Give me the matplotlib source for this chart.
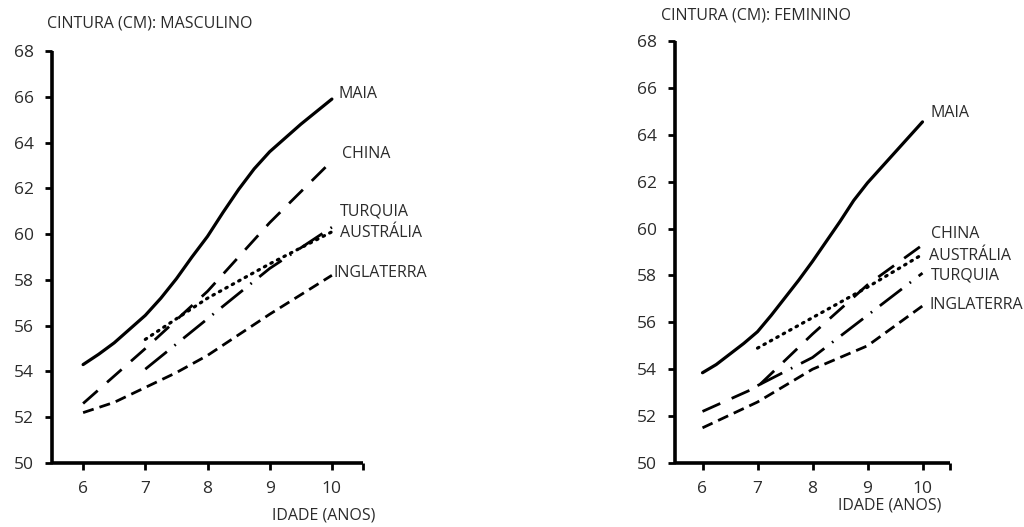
import matplotlib
matplotlib.use("Agg")
import matplotlib.pyplot as plt

plt.rcParams['font.family'] = ['Open Sans', 'DejaVu Sans']

# ---- data ----
ages_q = [6, 6.25, 6.5, 6.75, 7, 7.25, 7.5, 7.75, 8, 8.25, 8.5, 8.75, 9, 9.25, 9.5, 9.75, 10]
ages_half = [6, 6.5, 7, 7.5, 8, 8.5, 9, 9.5, 10]
ages_6 = [6, 7, 8, 9, 10]
ages_7 = [7, 8, 9, 10]

# masculino
m_maia = [54.3, 54.75, 55.25, 55.85, 56.45, 57.2, 58.05, 59.0, 59.9, 60.95,
          61.95, 62.85, 63.6, 64.2, 64.8, 65.35, 65.9]
m_china = [52.6, 55.0, 57.5, 60.5, 63.2]
m_turquia = [54.1, 56.3, 58.5, 60.3]
m_australia = [55.4, 57.2, 58.7, 60.1]
m_inglaterra = [52.2, 52.65, 53.3, 53.95, 54.7, 55.6, 56.5, 57.35, 58.2]

# feminino
f_maia = [53.85, 54.2, 54.65, 55.1, 55.6, 56.3, 57.05, 57.8, 58.6, 59.45,
          60.3, 61.2, 61.95, 62.6, 63.25, 63.9, 64.55]
f_china = [52.2, 53.25, 55.5, 57.6, 59.3]
f_australia = [54.9, 56.2, 57.5, 58.9]
f_turquia = [53.3, 54.5, 56.3, 58.1]
f_inglaterra = [51.5, 52.6, 54.0, 55.0, 56.7]

xticks = [6, 7, 8, 9, 10]
yticks = [50, 52, 54, 56, 58, 60, 62, 64, 66, 68]

TXT = '#2b2b2b'

fig = plt.figure(figsize=(10.24, 5.27), dpi=100)
axL = fig.add_axes([52/1024, 1-463/527, 311/1024, 412/527])
axR = fig.add_axes([675/1024, 1-463/527, 275/1024, 422/527])

LW = 2.0
styles = {
    'maia': dict(color='black', lw=2.3, ls='-', solid_capstyle='round', solid_joinstyle='round'),
    'china': dict(color='black', lw=LW, dashes=(7, 4.5)),
    'turquia': dict(color='black', lw=LW, dashes=(10, 3.5, 0.6, 3.5)),
    'australia': dict(color='black', lw=2.3, dashes=(0.5, 1.8), dash_capstyle='round'),
    'inglaterra': dict(color='black', lw=LW, dashes=(4, 2.2)),
}

def style_axes(ax):
    ax.set_xlim(5.5, 10.5)
    ax.set_ylim(50, 68)
    for s in ['top', 'right']:
        ax.spines[s].set_visible(False)
    for s in ['left', 'bottom']:
        ax.spines[s].set_linewidth(2.6)
        ax.spines[s].set_capstyle('butt')
    ax.set_xticks(xticks)
    ax.set_yticks(yticks)
    ax.set_xticks([10.5], minor=True)
    ax.tick_params(axis='both', which='both', direction='out', length=5, width=2,
                   labelsize=12.5, pad=8, colors='black', labelcolor=TXT)

axL.plot(ages_q, m_maia, **styles['maia'])
axL.plot(ages_6, m_china, **styles['china'])
axL.plot(ages_7, m_turquia, **styles['turquia'])
axL.plot(ages_7, m_australia, **styles['australia'])
axL.plot(ages_half, m_inglaterra, **styles['inglaterra'])
style_axes(axL)

axR.plot(ages_q, f_maia, **styles['maia'])
axR.plot(ages_6, f_china, **styles['china'])
axR.plot(ages_7, f_turquia, **styles['turquia'])
axR.plot(ages_7, f_australia, **styles['australia'])
axR.plot(ages_6, f_inglaterra, **styles['inglaterra'])
style_axes(axR)

fs = 11.5
lblL = [('MAIA', 10.1, 66.1), ('CHINA', 10.17, 63.5), ('TURQUIA', 10.13, 61.0),
        ('AUSTRÁLIA', 10.13, 60.05), ('INGLATERRA', 10.03, 58.3)]
for t, x, y in lblL:
    axL.text(x, y, t, fontsize=fs, color=TXT, va='center', ha='left', clip_on=False)
lblR = [('MAIA', 10.15, 64.95), ('CHINA', 10.15, 59.75), ('AUSTRÁLIA', 10.12, 58.85),
        ('TURQUIA', 10.15, 58.0), ('INGLATERRA', 10.12, 56.75)]
for t, x, y in lblR:
    axR.text(x, y, t, fontsize=fs, color=TXT, va='center', ha='left', clip_on=False)

fig.text(47/1024, 1-24/527, 'CINTURA (CM): MASCULINO', fontsize=fs, color=TXT, ha='left', va='center')
fig.text(661/1024, 1-16/527, 'CINTURA (CM): FEMININO', fontsize=fs, color=TXT, ha='left', va='center')
fig.text(272/1024, 1-515/527, 'IDADE (ANOS)', fontsize=fs, color=TXT, ha='left', va='center')
fig.text(838/1024, 1-505/527, 'IDADE (ANOS)', fontsize=fs, color=TXT, ha='left', va='center')

fig.savefig('out.png', dpi=100)
